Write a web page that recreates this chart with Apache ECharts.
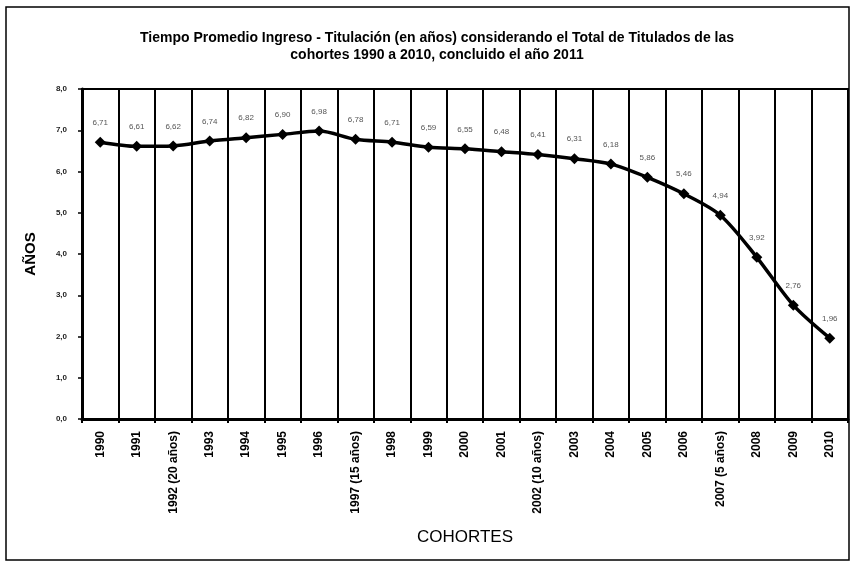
<!DOCTYPE html>
<html>
<head>
<meta charset="utf-8">
<script src="https://cdn.jsdelivr.net/npm/echarts@6/dist/echarts.min.js"></script>
<style>html,body{margin:0;padding:0;background:#fff;}#c{width:852px;height:564px;}</style>
</head>
<body>
<div id="c"></div>
<script>
var categories = ["1990","1991","1992 (20 años)","1993","1994","1995","1996","1997 (15 años)","1998","1999","2000","2001","2002 (10 años)","2003","2004","2005","2006","2007 (5 años)","2008","2009","2010"];
var values = [6.71,6.61,6.62,6.74,6.82,6.90,6.98,6.78,6.71,6.59,6.55,6.48,6.41,6.31,6.18,5.86,5.46,4.94,3.92,2.76,1.96];
var yTicks = {min:0, max:8, interval:1};
var titleText = "Tiempo Promedio Ingreso - Titulación (en años) considerando el Total de Titulados de las\ncohortes 1990 a 2010, concluido el año 2011";

var chart = echarts.init(document.getElementById('c'));
chart.setOption({
  animation:false,
  backgroundColor:'#fff',
  title:{
    text:titleText,
    left:432, top:25, textAlign:'center',
    textStyle:{fontFamily:'Liberation Sans',fontSize:14,fontWeight:'bold',color:'#000',lineHeight:17}
  },
  graphic:[{type:'rect',shape:{x:6,y:7,width:843,height:553},style:{fill:'none',stroke:'#000',lineWidth:1.5},z:-1}],
  grid:{left:82,right:4,top:89,bottom:145,show:true,borderColor:'#000',borderWidth:2,backgroundColor:'transparent'},
  xAxis:{
    type:'category',data:categories,boundaryGap:true,
    name:'COHORTES',nameLocation:'middle',nameGap:110,
    nameTextStyle:{fontFamily:'Liberation Sans',fontSize:17,color:'#000'},
    axisLine:{lineStyle:{color:'#000',width:3}},
    axisTick:{show:true,length:4,lineStyle:{color:'#000',width:2}},
    axisLabel:{rotate:90,interval:0,margin:12,fontFamily:'Liberation Sans',fontSize:12,fontWeight:'bold',color:'#000'},
    splitLine:{show:true,interval:0,lineStyle:{color:'#000',width:2}}
  },
  yAxis:{
    type:'value',min:yTicks.min,max:yTicks.max,interval:yTicks.interval,
    name:'AÑOS',nameLocation:'middle',nameGap:44,
    nameTextStyle:{fontFamily:'Liberation Sans',fontSize:15,fontWeight:'bold',color:'#000'},
    axisLine:{show:true,lineStyle:{color:'#000',width:3}},
    axisTick:{show:true,length:4,lineStyle:{color:'#000',width:1.5}},
    axisLabel:{margin:15,fontFamily:'Liberation Sans',fontSize:8,fontWeight:'bold',color:'#222',
      formatter:function(v){return v.toFixed(1).replace('.',',');}},
    splitLine:{show:false}
  },
  series:[{
    type:'line',data:values,smooth:0.3,
    symbol:'diamond',symbolSize:11,
    lineStyle:{color:'#000',width:3.5},
    itemStyle:{color:'#000'},
    label:{show:true,position:'top',distance:10,fontFamily:'Liberation Sans',fontSize:8,color:'#555',
      formatter:function(p){return p.value.toFixed(2).replace('.',',');}}
  }]
});
</script>
</body>
</html>
